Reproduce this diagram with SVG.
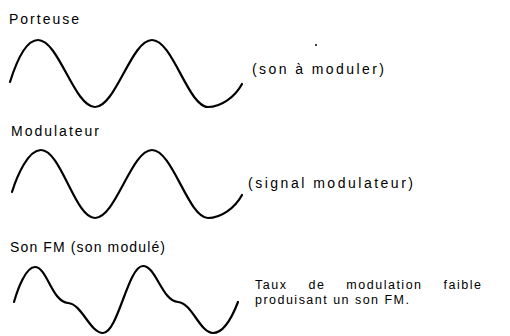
<svg xmlns="http://www.w3.org/2000/svg" width="510" height="336" viewBox="0 0 510 336">
  <style>
    .wave { fill: none; stroke: #000; stroke-width: 2.2; stroke-linecap: round; stroke-linejoin: round; }
    .lbl { font-family: "Liberation Sans", Arial, sans-serif; font-size: 14px; fill: #000; }
    .paren { font-family: "Liberation Sans", Arial, sans-serif; font-size: 14px; fill: #000; }
    .note { font-family: "Liberation Sans", Arial, sans-serif; font-size: 12.5px; fill: #000; }
  </style>
  <rect width="510" height="336" fill="#fff"/>
  <g id="porteuse">
    <text class="lbl" x="9" y="24" textLength="70" lengthAdjust="spacing">Porteuse</text>
    <path class="wave" d="M10,82 C15,66 25,40 38,40 C58.7,40 74.3,107 95,107 C115.7,107 131.3,40 152,40 C172.7,40 188.3,107 208,107 C221,107 235,97 242,84"/>
    <text class="paren" x="252" y="74" textLength="132" lengthAdjust="spacing">(son à moduler)</text>
    <circle cx="316" cy="45" r="1" fill="#000"/>
  </g>
  <g id="modulateur">
    <text class="lbl" x="11" y="136" textLength="88" lengthAdjust="spacing">Modulateur</text>
    <path class="wave" d="M12,192 C17,176 28,150 41,150 C61,150 75,218 95,218 C115.7,218 131.3,150 152,150 C172.7,150 188.3,218 208,218 C221,218 235,208 242,195"/>
    <text class="paren" x="248" y="188" textLength="165" lengthAdjust="spacing">(signal modulateur)</text>
  </g>
  <g id="son-fm">
    <text class="lbl" x="10" y="252" textLength="155" lengthAdjust="spacing">Son FM (son modulé)</text>
    <path class="wave" d="M14,302 C18,288 26,267 35,267 C47,267 52,302 68,303 C82,304 90,333 103,333 C118,333 128,266 143,266 C156,266 162,301 178,302 C192,303 200,333 213,333 C224,333 233,315 238,302"/>
    <text class="note" x="255" y="289" word-spacing="16" textLength="226" lengthAdjust="spacing">Taux de modulation faible</text>
    <text class="note" x="255" y="304" textLength="154" lengthAdjust="spacing">produisant un son FM.</text>
  </g>
</svg>
